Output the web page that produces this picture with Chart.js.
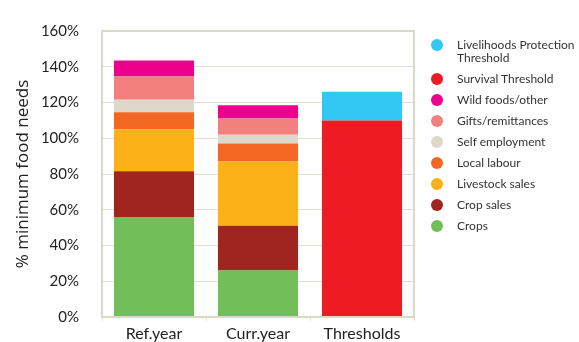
<!DOCTYPE html>
<html>
<head>
<meta charset="utf-8">
<script src="https://cdn.jsdelivr.net/npm/chart.js@4"></script>
<style>
  html, body { margin: 0; padding: 0; background: #fff; }
  #wrap { position: relative; width: 579px; height: 342px; }
  #legend { position: absolute; left: 431px; top: 38px; font-family: Lato, sans-serif; font-size: 12px; color: #333; }
  .item { display: flex; align-items: flex-start; margin-bottom: 8px; line-height: 13px; }
  .dot { width: 12px; height: 12px; border-radius: 50%; margin-top: 1px; margin-right: 14px; flex: none; }
</style>
</head>
<body>
<div id="wrap">
  <canvas id="chart" width="579" height="342"></canvas>
  <div id="legend"></div>
</div>
<script>
var categories = ['Ref.year','Curr.year','Thresholds']
var crops = [56, 26, null]
var cropSales = [25.5, 25, null]
var livestockSales = [23.5, 36, null]
var localLabour = [9.5, 10, null]
var selfEmployment = [7, 5, null]
var giftsRemittances = [13, 9, null]
var wildFoods = [9, 7.5, null]
var survivalThreshold = [null, null, 110]
var protectionThreshold = [null, null, 16]
var yTicks = [0, 20, 40, 60, 80, 100, 120, 140, 160]

var gridColor = '#e2dfd0'

var makeSet = function(label, data, color){
  return {label: label, data: data, backgroundColor: color, borderWidth: 0,
    barPercentage: 0.77, categoryPercentage: 1}
}

var datasets = [
  makeSet('Crops', crops, '#72bf5a'),
  makeSet('Crop sales', cropSales, '#a0251f'),
  makeSet('Livestock sales', livestockSales, '#fbb117'),
  makeSet('Local labour', localLabour, '#f26822'),
  makeSet('Self employment', selfEmployment, '#ddd8ca'),
  makeSet('Gifts/remittances', giftsRemittances, '#f37f7f'),
  makeSet('Wild foods/other', wildFoods, '#ec008c'),
  makeSet('Survival Threshold', survivalThreshold, '#ed1c24'),
  makeSet('Livelihoods Protection Threshold', protectionThreshold, '#33c8f4')
]

// frame round the plot area
var boxPlugin = {
  id: 'box',
  afterDraw: function(chart){
    var a = chart.chartArea
    var ctx = chart.ctx
    ctx.save()
    ctx.strokeStyle = '#dcd8c6'
    ctx.lineWidth = 2
    ctx.strokeRect(a.left, a.top, a.right - a.left, a.bottom - a.top)
    ctx.restore()
  }
}

var chart = new Chart(document.getElementById('chart'), {
  type: 'bar',
  data: {labels: categories, datasets: datasets},
  plugins: [boxPlugin],
  options: {
    responsive: false,
    animation: false,
    layout: {padding: {top: 31, right: 165, left: 0, bottom: 0}},
    plugins: {legend: {display: false}, tooltip: {enabled: false}},
    scales: {
      x: {
        stacked: true,
        afterFit: function(scale){ scale.height = 25 },
        grid: {offset: true, drawOnChartArea: false, drawTicks: true, tickLength: 4, color: gridColor},
        border: {color: '#dcd8c6', width: 2},
        ticks: {padding: 3, color: '#222', font: {family: 'Lato', size: 16}}
      },
      y: {
        stacked: true,
        min: 0,
        max: 160,
        afterFit: function(scale){
          scale.width = 102
          scale.paddingTop = 0
          scale.paddingBottom = 0
        },
        afterBuildTicks: function(scale){
          scale.ticks = yTicks.map(function(v){ return {value: v} })
        },
        grid: {color: gridColor, lineWidth: 1, drawTicks: false},
        border: {color: '#dcd8c6', width: 2},
        ticks: {padding: 23, color: '#222', font: {family: 'Lato', size: 15},
          callback: function(v){ return v + '%' }},
        title: {display: true, text: '% minimum food needs', color: '#222',
          font: {family: 'Open Sans', size: 17}, padding: {top: 13, bottom: 0}}
      }
    }
  }
})

var legendBox = document.getElementById('legend')
chart.data.datasets.slice().reverse().forEach(function(ds){
  var item = document.createElement('div')
  item.className = 'item'
  var dot = document.createElement('span')
  dot.className = 'dot'
  dot.style.background = ds.backgroundColor
  var text = document.createElement('span')
  text.textContent = ds.label
  if(ds.label.indexOf('Livelihoods') === 0){
    text.innerHTML = 'Livelihoods Protection<br>Threshold'
  }
  item.appendChild(dot)
  item.appendChild(text)
  legendBox.appendChild(item)
})
</script>
</body>
</html>
